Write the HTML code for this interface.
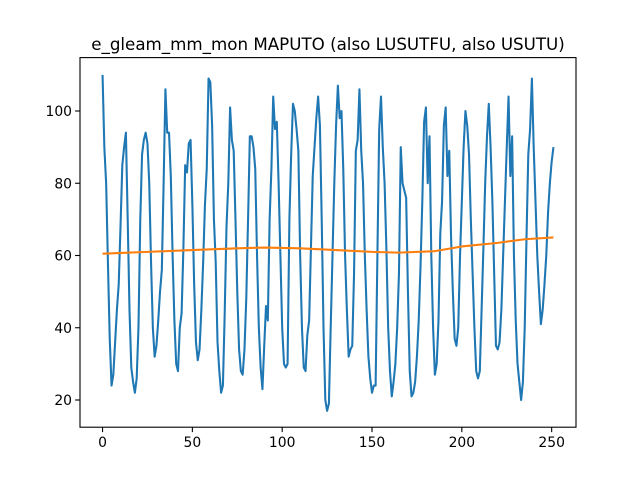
<!DOCTYPE html>
<html><head><meta charset="utf-8"><style>
body{margin:0;background:#fff;}
svg{display:block;font-family:"DejaVu Sans","Liberation Sans",sans-serif;}
</style></head><body>
<svg id="chart" width="640" height="480" viewBox="0 0 640 480">
<rect width="640" height="480" fill="#fff"/>
<text x="328" y="50" font-size="16.7" text-anchor="middle">e_gleam_mm_mon MAPUTO (also LUSUTFU, also USUTU)</text>
<g id="plot"></g>
</svg>
<script>
const seriesValues = [110,90,80,58,37,24,
27,36,45,52,68,85,90,94,
70,45,29,25,22,
26,40,70,88,92,94,
91,80,58,40,32,
35,42,50,56,80,106,
94,94,82,60,42,30,28,
40,44,62,85,83,91,
92,74,52,36,31,
34,45,58,74,84,109,
108,96,70,58,36,28,22,
24,44,68,80,101,
92,89,70,50,34,28,27,
34,48,70,93,93,
90,84,60,40,29,23,
35,46,42,70,84,104,
95,97,80,60,40,30,29,
30,70,88,102,
100,95,89,60,40,29,28,
38,42,62,82,90,98,104,
96,70,40,20,17,
19,40,60,80,96,107,
98,100,84,60,45,32,
34,35,55,89,92,106,
89,80,60,45,32,26,22,
24,24,60,95,104,
90,80,62,40,28,21,
25,30,40,55,90,
80,78,76,50,28,21,
22,25,32,42,57,75,97,101,
80,93,60,40,27,
30,42,66,75,96,101,
82,89,65,50,37,35,
40,60,75,90,100,
96,88,70,55,40,28,26,
28,45,62,80,93,102,
90,75,55,35,34,
36,45,60,75,90,104,
82,93,60,42,30,25,20,
25,40,65,88,95,109,
90,75,60,50,41,
45,52,60,72,80,86,90];
const trendIndex = [0,25,50,75,90,110,130,150,165,185,200,220,235,251];
const trendValues = [60.5,61,61.5,62,62.2,62,61.5,61,60.8,61.2,62.5,63.5,64.5,65];
const xTicks = [0,50,100,150,200,250];
const yTicks = [20,40,60,80,100];

const L=80,R=576,T=57.6,B=427.2;
const xMin=-12.55,xMax=263.55;
function xs(v){return L+(v-xMin)/(xMax-xMin)*(R-L);}
function ys(v){return 400-(v-20)*3.6125;}
const NS="http://www.w3.org/2000/svg";
const g=document.getElementById('plot');
function mk(t,a){const e=document.createElementNS(NS,t);for(const k in a)e.setAttribute(k,a[k]);g.appendChild(e);return e;}

let d=seriesValues.map((v,i)=>(i?'L':'M')+xs(i).toFixed(2)+','+ys(v).toFixed(2)).join('');
const p1=mk('path',{d:d,fill:'none',stroke:'#1f77b4','stroke-width':2.08,'stroke-linejoin':'round'});


let d2=trendIndex.map((x,i)=>(i?'L':'M')+xs(x).toFixed(2)+','+ys(trendValues[i]).toFixed(2)).join('');
const p2=mk('path',{d:d2,fill:'none',stroke:'#ff7f0e','stroke-width':2.08,'stroke-linejoin':'round'});



const fr=mk('rect',{x:L,y:T,width:R-L,height:B-T,fill:'none',stroke:'#000','stroke-width':1.1});



xTicks.forEach(t=>{
  const x=xs(t);
  const tk=mk('line',{x1:x,x2:x,y1:B,y2:B+4.9,stroke:'#000','stroke-width':1.1});
  
  
  const tx=mk('text',{x:x,y:B+20,'font-size':13.9,'text-anchor':'middle'});
  tx.textContent=t;
  
  
});
yTicks.forEach(t=>{
  const y=ys(t);
  const tk=mk('line',{x1:L-4.9,x2:L,y1:y,y2:y,stroke:'#000','stroke-width':1.1});
  
  
  const tx=mk('text',{x:L-8,y:y+5,'font-size':13.9,'text-anchor':'end'});
  tx.textContent=t;
  
  
});
</script>
</body></html>
